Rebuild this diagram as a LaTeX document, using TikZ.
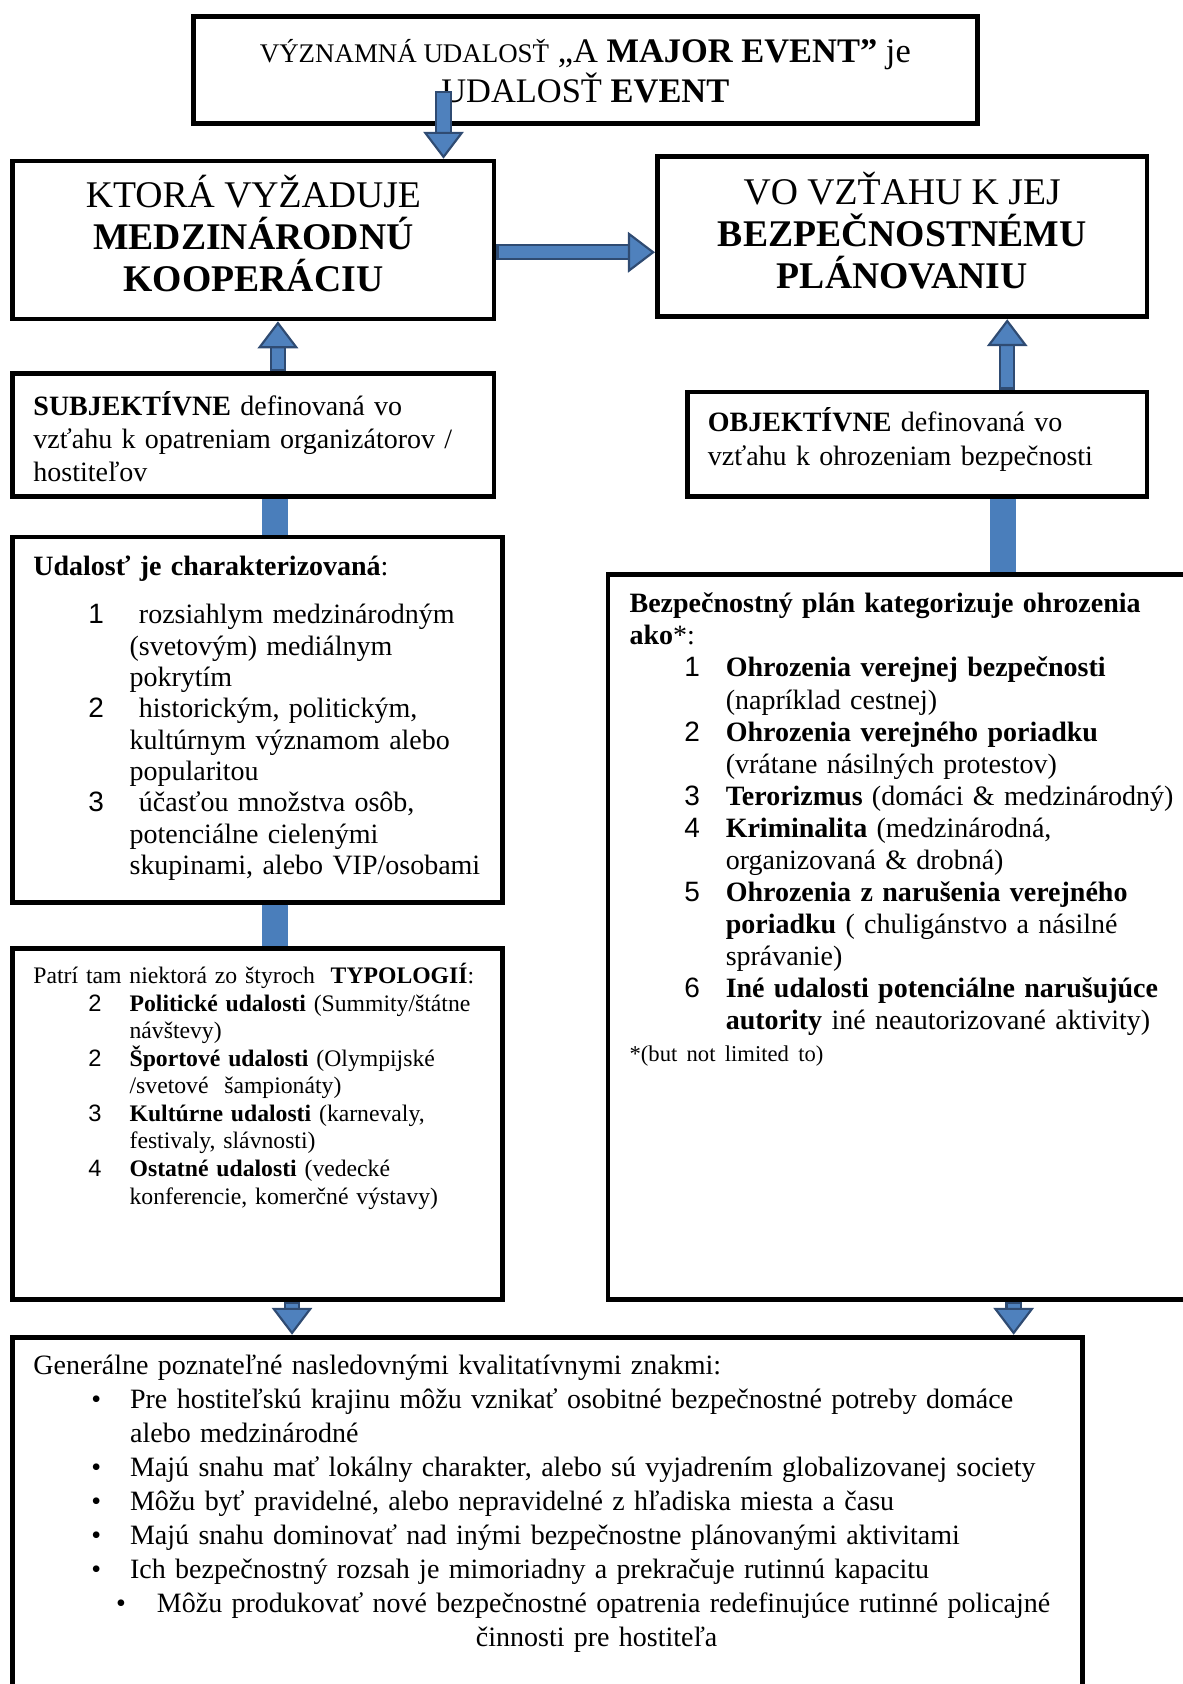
\documentclass[tikz,border=0pt]{standalone}
\usepackage{fontspec}
\setmainfont{Liberation Serif}
\setsansfont{Liberation Sans}
\usetikzlibrary{arrows.meta}

\definecolor{arrowfill}{HTML}{4F81BD}
\definecolor{arrowline}{HTML}{2F4B72}
\definecolor{barfill}{HTML}{4A7EBB}

\setlength{\parindent}{0pt}
\setlength{\parskip}{0pt}

% numbered and bulleted lines with hanging indent
\newcommand{\numitem}[1]{\par\hangindent=1.57cm\hangafter=0\noindent\llap{\makebox[0.675cm][l]{\sffamily #1}}}
\newcommand{\bulitem}[2]{\par\hangindent=#1\hangafter=0\noindent\llap{\makebox[#2][l]{\textbullet}}}

\begin{document}
\begin{tikzpicture}[
  box/.style={draw, line width=2.2pt, inner sep=0pt},
  title/.style={box, align=center, font=\fontsize{17.5}{19.4}\selectfont},
  txt/.style={inner sep=0pt, anchor=north west, align=left, font=\fontsize{13}{15.5}\selectfont},
  blockarr/.style={draw=arrowfill, line width=5.6pt, shorten <=1pt,
    -{Triangle[length=4.4mm, width=6.6mm, fill=arrowfill, color=arrowline, line width=1pt]},
    preaction={draw=arrowline, line width=7.6pt, arrows=-, shorten <=0pt, shorten >=4.4mm}},
  bar/.style={draw=barfill, line width=4.2mm}
]
\useasboundingbox (0,0) rectangle (19.30,-27.49);

% Top
\node[box, minimum width=12.80cm, minimum height=1.753cm, align=center, font=\fontsize{16}{18.9}\selectfont] (event) at (9.555,-1.140)
  {\rule{0pt}{12pt}{\fontsize{12.5}{18.9}\selectfont VÝZNAMNÁ UDALOSŤ} „A \textbf{MAJOR EVENT”} je\\UDALOSŤ \textbf{EVENT}};

% Two headline boxes
\node[title, minimum width=7.854cm, minimum height=2.577cm] (ktora) at (4.137,-3.918)
  {KTORÁ VYŽADUJE\\\textbf{MEDZINÁRODNÚ}\\\textbf{KOOPERÁCIU}\rule[-6pt]{0pt}{0pt}};
\node[title, minimum width=7.994cm, minimum height=2.612cm] (vztah) at (14.727,-3.866)
  {VO VZŤAHU K JEJ\\\textbf{BEZPEČNOSTNÉMU}\\\textbf{PLÁNOVANIU}\rule[-6pt]{0pt}{0pt}};

% Left column
\node[box, minimum width=7.854cm, minimum height=1.999cm] (subj) at (4.137,-7.100) {};
\node[txt, text width=7.6cm] (subjtext) at ([shift={(0.368,-0.315)}]subj.north west)
  {\strut\textbf{SUBJEKTÍVNE} definovaná vo\newline vzťahu k opatreniam organizátorov /\newline hostiteľov\par};

\node[box, minimum width=7.995cm, minimum height=5.961cm] (udal) at (4.207,-11.746) {};
\node[txt, text width=7.6cm, font=\fontsize{13}{14.55}\selectfont] (udaltext) at ([shift={(0.368,-0.307)}]udal.north west)
  {\strut\textbf{Udalosť je charakterizovaná}:\par\vspace{7.8pt}
   \numitem{1}\ rozsiahlym medzinárodným\newline (svetovým) mediálnym\newline pokrytím
   \numitem{2}\ historickým, politickým,\newline kultúrnym významom alebo\newline popularitou
   \numitem{3}\ účasťou množstva osôb,\newline potenciálne cielenými\newline skupinami, alebo VIP/osobami\par};

\node[box, minimum width=7.995cm, minimum height=5.733cm] (patri) at (4.207,-18.347) {};
\node[txt, text width=7.6cm, font=\fontsize{11}{12.8}\selectfont] (patritext) at ([shift={(0.368,-0.275)}]patri.north west)
  {\strut Patrí tam niektorá zo štyroch\ \ \textbf{TYPOLOGIÍ}:
   \numitem{2}\textbf{Politické udalosti} (Summity/štátne\newline návštevy)
   \numitem{2}\textbf{Športové udalosti} (Olympijské\newline /svetové\ \ šampionáty)
   \numitem{3}\textbf{Kultúrne udalosti} (karnevaly,\newline festivaly, slávnosti)
   \numitem{4}\textbf{Ostatné udalosti} (vedecké\newline konferencie, komerčné výstavy)\par};

% Right column
\node[box, minimum width=7.504cm, minimum height=1.701cm] (obj) at (14.972,-7.249) {};
\node[txt, text width=7.2cm, font=\fontsize{13}{15.9}\selectfont] (objtext) at ([shift={(0.368,-0.285)}]obj.north west)
  {\strut\textbf{OBJEKTÍVNE} definovaná vo\newline vzťahu k ohrozeniam bezpečnosti\par};

\node[box, minimum width=9.627cm, minimum height=11.834cm] (bezp) at (14.737,-15.296) {};
\node[txt, text width=9cm, font=\fontsize{13}{14.9}\selectfont] (bezptext) at ([shift={(0.386,-0.29)}]bezp.north west)
  {\strut\textbf{Bezpečnostný plán kategorizuje ohrozenia}\newline \textbf{ako}*:
   \numitem{1}\textbf{Ohrozenia verejnej bezpečnosti}\newline (napríklad cestnej)
   \numitem{2}\textbf{Ohrozenia verejného poriadku}\newline (vrátane násilných protestov)
   \numitem{3}\textbf{Terorizmus} (domáci \& medzinárodný)
   \numitem{4}\textbf{Kriminalita} (medzinárodná,\newline organizovaná \& drobná)
   \numitem{5}\textbf{Ohrozenia z narušenia verejného}\newline \textbf{poriadku} ( chuligánstvo a násilné\newline správanie)
   \numitem{6}\textbf{Iné udalosti potenciálne narušujúce}\newline \textbf{autority} iné neautorizované aktivity)
   \par\fontsize{10.5}{14.9}\selectfont *(but not limited to)\par};

% Bottom
\node[box, minimum width=17.462cm, minimum height=5.923cm] (gen) at (8.941,-24.789) {};
\node[txt, text width=18cm, font=\fontsize{13}{15.78}\selectfont] (gentext) at ([shift={(0.368,-0.25)}]gen.north west)
  {\strut Generálne poznateľné nasledovnými kvalitatívnymi znakmi:
   \bulitem{1.578cm}{0.631cm}Pre hostiteľskú krajinu môžu vznikať osobitné bezpečnostné potreby domáce\newline alebo medzinárodné
   \bulitem{1.578cm}{0.631cm}Majú snahu mať lokálny charakter, alebo sú vyjadrením globalizovanej society
   \bulitem{1.578cm}{0.631cm}Môžu byť pravidelné, alebo nepravidelné z hľadiska miesta a času
   \bulitem{1.578cm}{0.631cm}Majú snahu dominovať nad inými bezpečnostne plánovanými aktivitami
   \bulitem{1.578cm}{0.631cm}Ich bezpečnostný rozsah je mimoriadny a prekračuje rutinnú kapacitu
   \bulitem{2.016cm}{0.666cm}Môžu produkovať nové bezpečnostné opatrenia redefinujúce rutinné policajné\newline\hspace*{5.207cm}činnosti pre hostiteľa\par};

% Plain connectors
\draw[bar] ([xshift=3.5mm]subj.south) -- ([xshift=3.5mm]subj.south |- udal.north);
\draw[bar] ([xshift=2.8mm]udal.south) -- ([xshift=2.8mm]udal.south |- patri.north);
\draw[bar] ([xshift=14mm]obj.south) -- ([xshift=14mm]obj.south |- bezp.north);

% Block arrows
\coordinate (evtfoot) at (7.240,-1.490);
\draw[blockarr] (evtfoot) -- (evtfoot |- ktora.north);
\draw[blockarr] ([yshift=-2mm]ktora.east) -- ([yshift=-2mm]ktora.east -| vztah.west);
\draw[blockarr] ([xshift=4mm]subj.north) -- ([xshift=4mm]ktora.south);
\draw[blockarr] ([xshift=14.7mm]obj.north) -- ([xshift=14.7mm]obj.north |- vztah.south);
\draw[blockarr] ([xshift=5.6mm]patri.south) -- ([xshift=5.6mm]patri.south |- gen.north);
\draw[blockarr] ([xshift=18.1mm]bezp.south) -- ([xshift=18.1mm]bezp.south |- gen.north);
\end{tikzpicture}
\end{document}
